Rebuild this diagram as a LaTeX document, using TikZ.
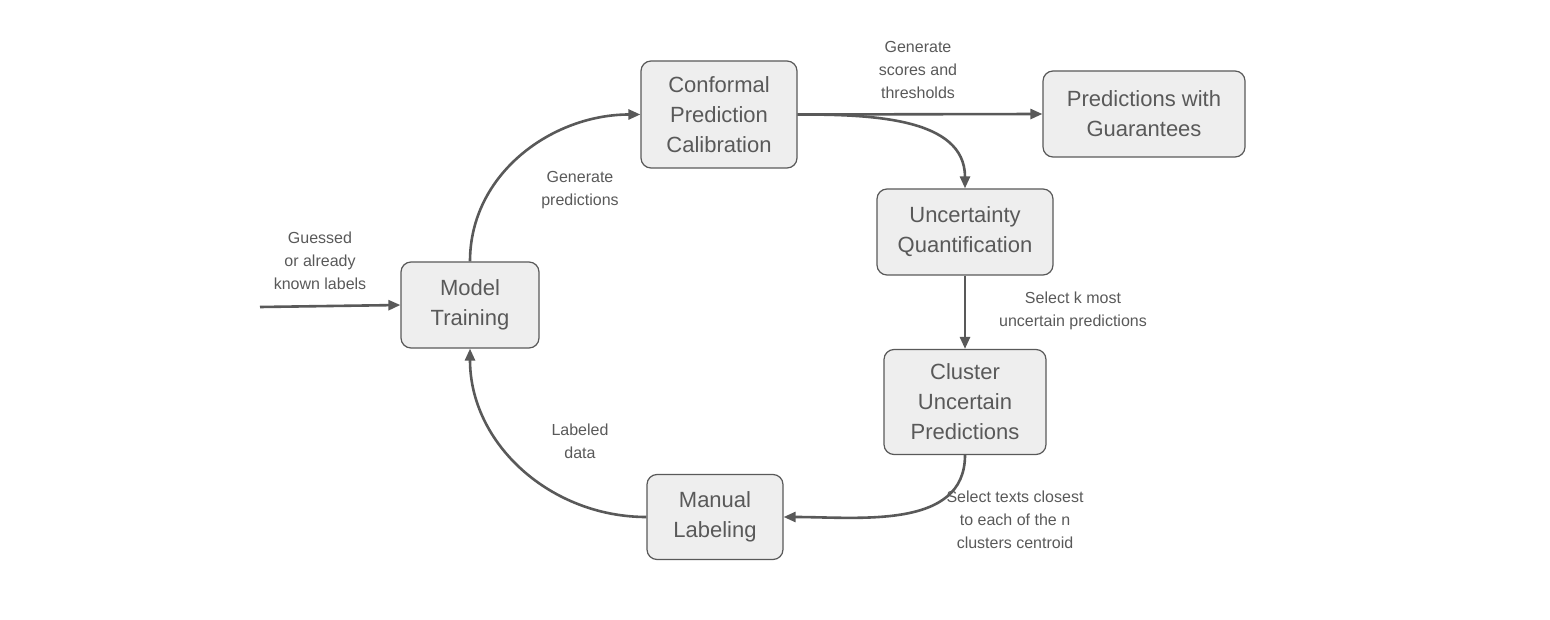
\documentclass[tikz,border=0pt]{standalone}
\usepackage{fontspec}
\setmainfont{Liberation Sans}
\usetikzlibrary{arrows.meta,positioning}
\definecolor{flowgray}{HTML}{595959}
\definecolor{boxfill}{HTML}{EEEEEE}

\begin{document}
\begin{tikzpicture}[x=1pt,y=-1pt,
    stagebox/.style={draw=flowgray,fill=boxfill,line width=1.2pt,rounded corners=10pt,
      align=center,font=\fontsize{22}{30}\selectfont,text=flowgray,inner sep=0pt},
    flow/.style={-{Triangle[length=12pt,width=10pt]},draw=flowgray,line width=2.6pt},
    note/.style={align=center,font=\fontsize{16}{23}\selectfont,text=flowgray}]

  \useasboundingbox (0,0) rectangle (1550,620);

  % ---- Stages -----------------------------------------------
  \node[stagebox,minimum width=138pt,minimum height=86pt]  (train) at (470,305) {Model\\Training};
  \node[stagebox,minimum width=156pt,minimum height=107pt] (conf)  at (719,114.5) {Conformal\\Prediction\\Calibration};
  \node[stagebox,minimum width=202pt,minimum height=86pt]  (guar)  at (1144,114) {Predictions with\\Guarantees};
  \node[stagebox,minimum width=176pt,minimum height=86pt]  (unc)   at (965,232) {Uncertainty\\Quantification};
  \node[stagebox,minimum width=162pt,minimum height=105pt] (clus)  at (965,402) {Cluster\\Uncertain\\Predictions};
  \node[stagebox,minimum width=136pt,minimum height=85pt]  (manual) at (715,517) {Manual\\Labeling};

  \coordinate (input) at (260,307);

  % ---- Connectors -------------------------------------------
  \draw[flow] (input) -- (train.west);
  \draw[flow] (train.north) to[out=90,in=180] (conf.west);
  \draw[flow] (conf.east) -- (guar.west);
  \draw[flow] (conf.east) to[out=0,in=90] (unc.north);
  \draw[flow] (unc.south) -- (clus.north);
  \draw[flow] (clus.south) to[out=-90,in=0] (manual.east);
  \draw[flow] (manual.west) to[out=180,in=-90] (train.south);

  % ---- Labels -----------------------------------------------
  \node[note] (lguess) at (320,261) {Guessed\\or already\\known labels};
  \node[note] (lpred)  at (580,190) {Generate\\predictions};
  \node[note] (lscore) at (918,70)  {Generate\\scores and\\thresholds};
  \node[note] (lk)     at (1073,311) {Select k most\\uncertain predictions};
  \node[note] (llab)   at (580,441) {Labeled\\data};
  \node[note] (ltext)  at (1015,520) {Select texts closest\\to each of the n\\clusters centroid};

\end{tikzpicture}
\end{document}
